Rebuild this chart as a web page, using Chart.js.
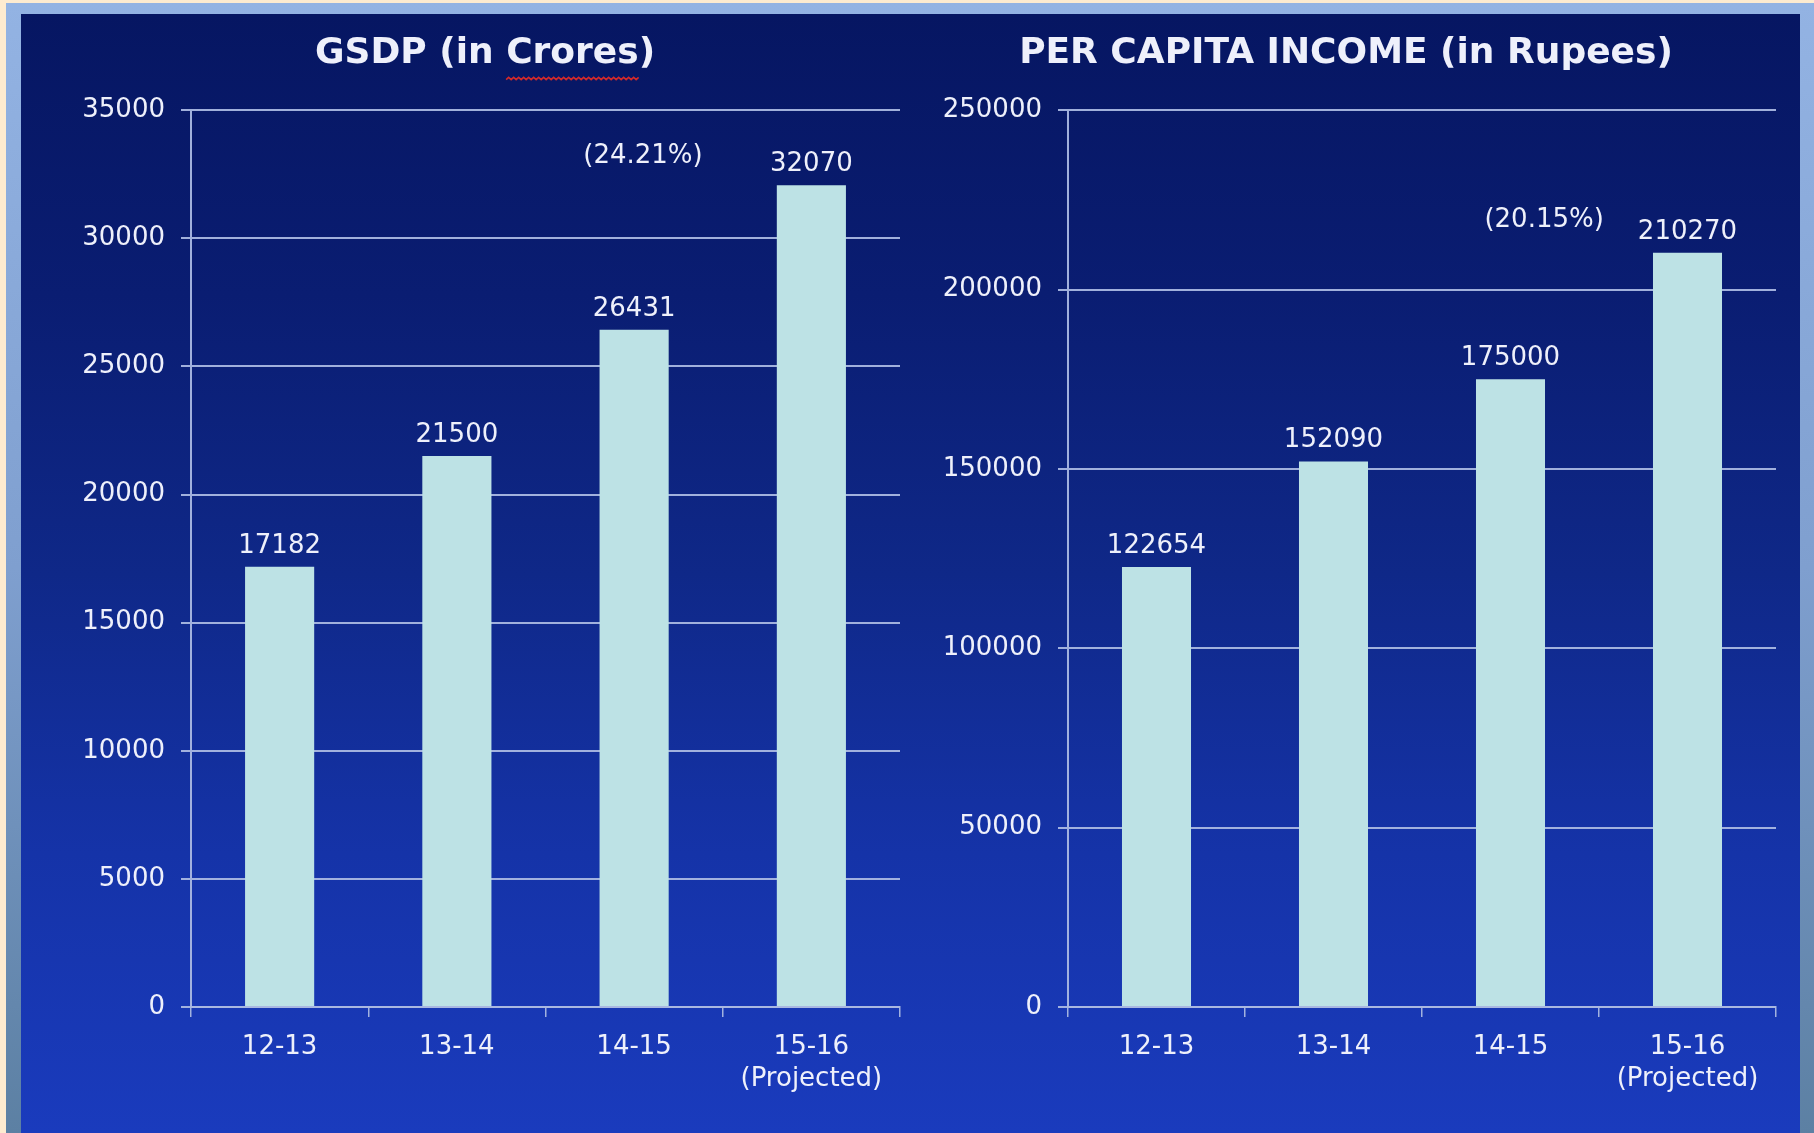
<!DOCTYPE html>
<html>
<head>
<meta charset="utf-8">
<script src="https://cdn.jsdelivr.net/npm/chart.js@4.4.1/dist/chart.umd.min.js"></script>
<style>
html,body{margin:0;padding:0;width:1814px;height:1133px;overflow:hidden;background:#fdebd0;}
#frame{position:absolute;left:6px;top:3px;width:1808px;height:1130px;background:linear-gradient(180deg,#93b3e3 0%,#7f9fcf 50%,#5c80a3 100%);}
#panel{position:absolute;left:21px;top:14px;width:1779px;height:1119px;
  background:linear-gradient(180deg,#061662 0%,#0a1d72 25%,#0f2888 50%,#1533a8 75%,#1a3bbd 100%);overflow:hidden;}
.wrap{position:absolute;top:13px;height:1120px;}
#w1{left:70px;width:835px;}
#w2{left:916px;width:874px;}
canvas{display:block;}
</style>
</head>
<body>
<div id="frame"></div>
<div id="panel"></div>
<div class="wrap" id="w1"><canvas id="c1" width="835" height="1120"></canvas></div>
<div class="wrap" id="w2"><canvas id="c2" width="874" height="1120"></canvas></div>
<script>
// ---- data ----
const categories = ['12-13', '13-14', '14-15', ['15-16', '(Projected)']];
const gsdpValues = [17182, 21500, 26431, 32070];
const incomeValues = [122654, 152090, 175000, 210270];
const gsdpTicks = [0, 5000, 10000, 15000, 20000, 25000, 30000, 35000];
const incomeTicks = [0, 50000, 100000, 150000, 200000, 250000];
const gsdpTitle = 'GSDP (in Crores)';
const incomeTitle = 'PER CAPITA INCOME (in Rupees)';
const gsdpNote = '(24.21%)';
const incomeNote = '(20.15%)';
// note anchors (category index, value) in data units
const gsdpNoteAt = [2.05, 33200];
const incomeNoteAt = [2.19, 219400];

// ---- style ----
const FONT = 'DejaVu Sans';
const TEXT = '#eef0fb';
const GRID = 'rgba(170,184,226,0.95)';
const BAR = '#bde2e5';

const labelsPlugin = {
  id: 'valueLabels',
  afterDatasetsDraw(chart, args, opts) {
    const ctx = chart.ctx;
    const meta = chart.getDatasetMeta(0);
    ctx.save();
    ctx.font = '26px "' + FONT + '"';
    ctx.fillStyle = TEXT;
    ctx.textAlign = 'center';
    ctx.textBaseline = 'alphabetic';
    meta.data.forEach((bar, i) => {
      const v = chart.data.datasets[0].data[i];
      ctx.fillText(String(v), bar.x, bar.y - 14);
    });
    const xs = chart.scales.x, ys = chart.scales.y;
    const nx = xs.getPixelForValue(opts.at[0]);
    const ny = ys.getPixelForValue(opts.at[1]);
    ctx.textBaseline = 'middle';
    ctx.fillText(opts.note, nx, ny);
    if (opts.squiggle) {
      const tb = chart.titleBlock;
      ctx.font = 'bold 36px "' + FONT + '"';
      const full = ctx.measureText(opts.title).width;
      const idx = opts.title.indexOf(opts.squiggle);
      const pre = ctx.measureText(opts.title.slice(0, idx)).width;
      const w = ctx.measureText(opts.squiggle).width;
      const cx = (tb.left + tb.right) / 2;
      const x0 = cx - full / 2 + pre;
      const y0 = tb.top + 19 + 43.2 / 2 + 26;
      ctx.strokeStyle = '#d42a2a';
      ctx.lineWidth = 1.6;
      ctx.beginPath();
      let up = true;
      ctx.moveTo(x0, y0);
      for (let x = x0 + 2.5; x <= x0 + w; x += 2.5) {
        ctx.lineTo(x, up ? y0 - 2.2 : y0);
        up = !up;
      }
      ctx.stroke();
    }
    ctx.restore();
  }
};

function makeChart(id, values, ticks, title, note, noteAt, yWidth, padRight, squiggle) {
  const step = ticks[1] - ticks[0];
  return new Chart(document.getElementById(id), {
    type: 'bar',
    data: {
      labels: categories,
      datasets: [{
        data: values,
        backgroundColor: BAR,
        borderWidth: 0,
        barPercentage: 0.39,
        categoryPercentage: 1.0
      }]
    },
    options: {
      responsive: false,
      devicePixelRatio: 1,
      animation: false,
      events: [],
      layout: {padding: {left: 0, right: padRight, top: 0, bottom: 0}},
      plugins: {
        legend: {display: false},
        tooltip: {enabled: false},
        title: {
          display: true,
          text: title,
          color: TEXT,
          font: {family: FONT, size: 36, weight: 'bold', lineHeight: 1.2},
          padding: {top: 19, bottom: 35}
        },
        valueLabels: {note: note, at: noteAt, title: title, squiggle: squiggle}
      },
      scales: {
        x: {
          grid: {display: true, drawOnChartArea: false, drawTicks: true, tickLength: 10, color: GRID, lineWidth: 1.5, offset: true},
          border: {display: true, color: GRID, width: 2},
          ticks: {color: TEXT, font: {family: FONT, size: 26, lineHeight: 1.2}, padding: 15, maxRotation: 0, autoSkip: false},
          afterFit(s) { s.height = 126; }
        },
        y: {
          min: ticks[0],
          max: ticks[ticks.length - 1],
          afterBuildTicks(s) { s.ticks = ticks.map(v => ({value: v})); },
          grid: {color: GRID, lineWidth: 2, tickLength: 10, drawTicks: true},
          border: {display: true, color: GRID, width: 2},
          ticks: {color: TEXT, font: {family: FONT, size: 26}, padding: 16, stepSize: step,
                  callback: v => String(v)},
          afterFit(s) { s.width = yWidth; }
        }
      }
    },
    plugins: [labelsPlugin]
  });
}

makeChart('c1', gsdpValues, gsdpTicks, gsdpTitle, gsdpNote, gsdpNoteAt, 121, 5, 'Crores');
makeChart('c2', incomeValues, incomeTicks, incomeTitle, incomeNote, incomeNoteAt, 152, 14, null);
</script>
</body>
</html>
